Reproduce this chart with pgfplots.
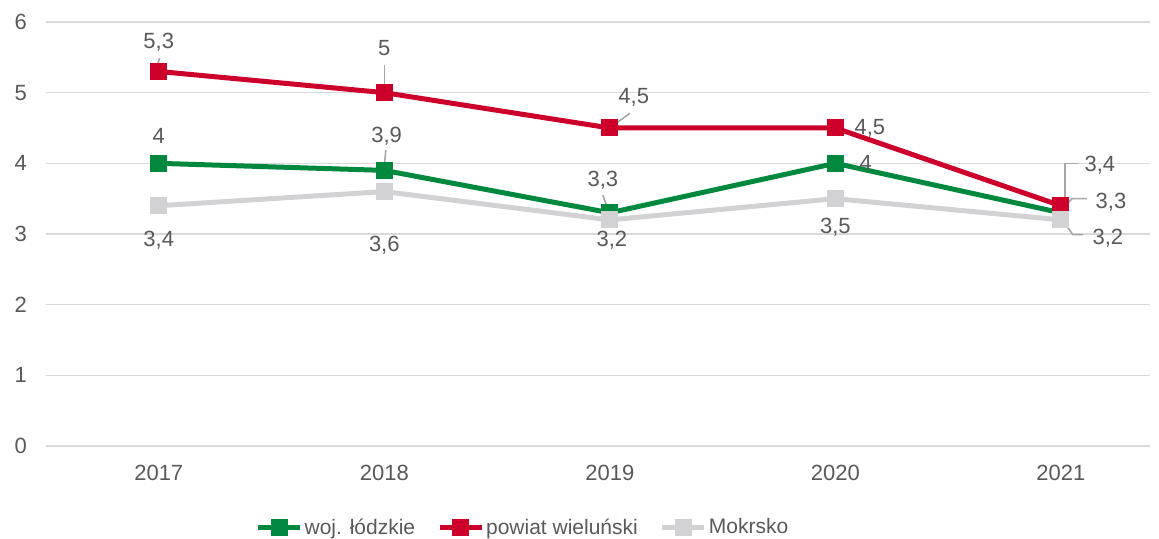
\documentclass[border=0pt]{standalone}
\usepackage{fontspec}
\setmainfont{Liberation Sans}
\usepackage{pgfplots}
\pgfplotsset{compat=1.18}

\definecolor{cgreen}{RGB}{0,137,62}
\definecolor{cred}{RGB}{204,0,43}
\definecolor{cgray}{RGB}{210,210,212}
\definecolor{gridgray}{RGB}{217,217,217}
\definecolor{txt}{RGB}{89,89,89}
\definecolor{lead}{RGB}{166,166,166}

\newcommand{\lbl}{\fontsize{11}{13}\selectfont}

\begin{document}
\begin{tikzpicture}
\begin{axis}[
  name=ax,
  scale only axis,
  width=552pt, height=212pt,
  xmin=-0.5, xmax=4.395,
  ymin=0, ymax=6,
  xtick={0,1,2,3,4},
  xticklabels={2017,2018,2019,2020,2021},
  ytick={0,1,2,3,4,5,6},
  ymajorgrids,
  grid style={gridgray, line width=0.8pt},
  axis line style={draw=none},
  major tick length=0pt,
  tick label style={font=\lbl, text=txt},
  /pgf/number format/assume math mode=true,
  yticklabel style={xshift=-6pt},
  xticklabel style={yshift=-6pt},
  legend columns=3,
  legend style={draw=none, fill=none, at={(0.432,-0.193)}, anchor=center,
    font=\fontsize{10.5}{12}\selectfont, text=txt,
    nodes={inner xsep=1pt},
    /tikz/every even column/.append style={column sep=10pt}},
  legend image code/.code={
    \draw[mark repeat=2, mark phase=2] plot coordinates {(0pt,0pt) (10.5pt,0pt) (21pt,0pt)};
  },
  every axis plot/.append style={line width=2.5pt, line join=round, mark=square*, mark size=4pt},
]
\addplot[cgreen, mark options={solid, line width=0pt, fill=cgreen}] coordinates {(0,4) (1,3.9) (2,3.3) (3,4) (4,3.3)};
\addlegendentry{woj. łódzkie}
\addplot[cred, mark options={solid, line width=0pt, fill=cred}] coordinates {(0,5.3) (1,5) (2,4.5) (3,4.5) (4,3.4)};
\addlegendentry{powiat wieluński}
\addplot[cgray, mark options={solid, line width=0pt, fill=cgray}] coordinates {(0,3.4) (1,3.6) (2,3.2) (3,3.5) (4,3.2)};
\addlegendentry{Mokrsko}

% leader lines
\draw[lead, line width=0.8pt] (axis cs:0.004,5.49) -- (axis cs:-0.009,5.36);
\draw[lead, line width=0.8pt] (axis cs:1,5.39) -- (axis cs:1,5.07);
\draw[lead, line width=0.8pt] (axis cs:2.089,4.71) -- (axis cs:2.009,4.52);
\draw[lead, line width=0.8pt] (axis cs:1.007,4.19) -- (axis cs:1,3.97);
\draw[lead, line width=0.8pt] (axis cs:1.969,3.55) -- (axis cs:1.991,3.35);
\draw[lead, line width=0.8pt] (axis cs:4.018,3.36) -- (axis cs:4.018,4.0) -- (axis cs:4.075,4.0);
\draw[lead, line width=0.8pt] (axis cs:4.004,3.34) -- (axis cs:4.049,3.50) -- (axis cs:4.115,3.50);
\draw[lead, line width=0.8pt] (axis cs:4.009,3.19) -- (axis cs:4.053,2.99) -- (axis cs:4.098,2.99);

% data labels
\begin{scope}[every node/.style={font=\lbl, text=txt, inner sep=0pt}]
\node at (axis cs:0,5.72) {5,3};
\node at (axis cs:1,5.63) {5};
\node at (axis cs:2.106,4.94) {4,5};
\node at (axis cs:3.153,4.5) {4,5};
\node at (axis cs:4.173,3.98) {3,4};
\node at (axis cs:0,4.39) {4};
\node at (axis cs:1.01,4.39) {3,9};
\node at (axis cs:1.969,3.76) {3,3};
\node at (axis cs:3.135,4.0) {4};
\node at (axis cs:4.222,3.45) {3,3};
\node at (axis cs:0,2.915) {3,4};
\node at (axis cs:1,2.84) {3,6};
\node at (axis cs:2.009,2.915) {3,2};
\node at (axis cs:3,3.10) {3,5};
\node at (axis cs:4.208,2.94) {3,2};
\end{scope}
\end{axis}
\pgfresetboundingbox
\path ([shift={(-23pt,-46.5pt)}]ax.south west) rectangle ([shift={(4.5pt,11pt)}]ax.north east);
\end{tikzpicture}
\end{document}
